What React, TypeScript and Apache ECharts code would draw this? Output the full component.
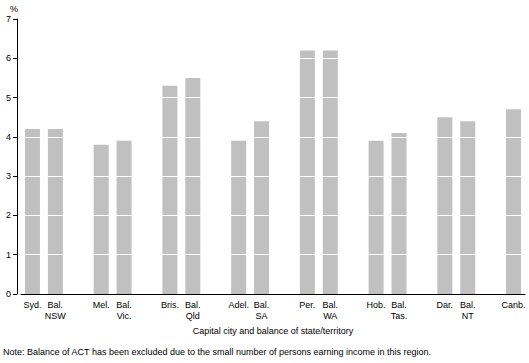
import React, { useEffect, useRef } from "react";
import * as echarts from "echarts";

const categories = [
  "Syd.", "Bal.\nNSW", "",
  "Mel.", "Bal.\nVic.", "",
  "Bris.", "Bal.\nQld", "",
  "Adel.", "Bal.\nSA", "",
  "Per.", "Bal.\nWA", "",
  "Hob.", "Bal.\nTas.", "",
  "Dar.", "Bal.\nNT", "",
  "Canb.",
];
const values: (number | null)[] = [
  4.2, 4.2, null,
  3.8, 3.9, null,
  5.3, 5.5, null,
  3.9, 4.4, null,
  6.2, 6.2, null,
  3.9, 4.1, null,
  4.5, 4.4, null,
  4.7,
];
const yTicks = [0, 1, 2, 3, 4, 5, 6, 7];
const xTitle = "Capital city and balance of state/territory";
const note = "Note: Balance of ACT has been excluded due to the small number of persons earning income in this region.";

const FONT = "Liberation Sans, Arial, sans-serif";

export default function App() {
  const ref = useRef<HTMLDivElement>(null);
  useEffect(() => {
    const chart = echarts.init(ref.current!, null, { renderer: "svg" });
    chart.setOption({
      animation: false,
      grid: { left: 21, right: 4, top: 19, bottom: 69, containLabel: false },
      xAxis: {
        type: "category",
        data: categories,
        z: 12,
        axisLine: { lineStyle: { color: "#000", width: 1 } },
        axisTick: { alignWithLabel: true, length: 4, lineStyle: { color: "#000" } },
        axisLabel: {
          interval: 0,
          color: "#000",
          fontFamily: FONT,
          fontSize: 9,
          lineHeight: 11,
          margin: 5,
        },
        name: xTitle,
        nameLocation: "middle",
        nameGap: 32,
        nameTextStyle: { color: "#000", fontFamily: FONT, fontSize: 9 },
      },
      yAxis: {
        type: "value",
        min: yTicks[0],
        max: yTicks[yTicks.length - 1],
        interval: 1,
        offset: 4,
        z: 10,
        name: "%",
        nameLocation: "end",
        nameGap: 6,
        nameTextStyle: { color: "#000", fontFamily: FONT, fontSize: 9, align: "center", padding: [0, 0, 0, -6] },
        axisLine: { show: true, lineStyle: { color: "#000", width: 1 } },
        axisTick: { show: true, length: 4, lineStyle: { color: "#000" } },
        axisLabel: { color: "#000", fontFamily: FONT, fontSize: 9, margin: 6 },
        splitLine: {
          show: true,
          showMinLine: false,
          showMaxLine: false,
          lineStyle: { color: "#fff", width: 1 },
        },
      },
      series: [
        {
          type: "bar",
          data: values,
          barWidth: 15,
          itemStyle: { color: "#c0c0c0" },
        },
      ],
      graphic: [
        {
          type: "text",
          left: 3,
          top: 347,
          style: { text: note, fill: "#000", font: `9px ${FONT}` },
        },
      ],
    });
    return () => chart.dispose();
  }, []);
  return <div ref={ref} style={{ width: 529, height: 363, position: "absolute", left: 0, top: 0 }} />;
}
